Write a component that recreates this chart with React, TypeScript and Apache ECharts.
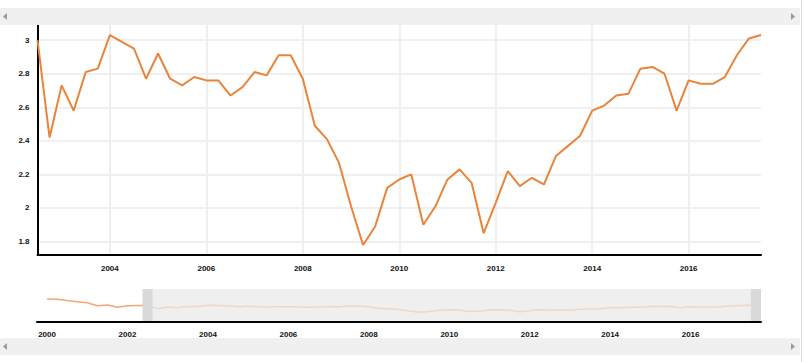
import React, { useEffect, useRef } from "react";
import * as echarts from "echarts";

// Quarterly values, 2000 Q1 .. 2017 Q3
const FIRST_YEAR = 2000;
const values2000Q1to2002Q2 = [4.2, 4.15, 3.9, 3.7, 3.5, 2.95, 3.1, 2.7, 2.95, 3.0];
const values2002Q3to2009Q4 = [
  3.0, 2.42,
  2.73, 2.58, 2.81, 2.83,
  3.03, 2.99, 2.95, 2.77,
  2.92, 2.77, 2.73, 2.78,
  2.76, 2.76, 2.67, 2.72,
  2.81, 2.79, 2.91, 2.91,
  2.77, 2.49, 2.41, 2.27,
  2.01, 1.78, 1.89, 2.12,
];
const values2010Q1to2017Q3 = [
  2.17, 2.2, 1.9, 2.01,
  2.17, 2.23, 2.15, 1.85,
  2.03, 2.22, 2.13, 2.18,
  2.14, 2.31, 2.37, 2.43,
  2.58, 2.61, 2.67, 2.68,
  2.83, 2.84, 2.8, 2.58,
  2.76, 2.74, 2.74, 2.78,
  2.91, 3.01, 3.03,
];
const quarterlyValues = [
  ...values2000Q1to2002Q2,
  ...values2002Q3to2009Q4,
  ...values2010Q1to2017Q3,
];

const viewRange = [2002.5, 2017.5];
const navigatorRange = [1999.75, 2017.75];
const yRange = [1.72, 3.09];
const yTicks = [1.8, 2, 2.2, 2.4, 2.6, 2.8, 3];
const mainXTicks = [2004, 2006, 2008, 2010, 2012, 2014, 2016];
const navXTicks = [2000, 2002, 2004, 2006, 2008, 2010, 2012, 2014, 2016];

const LINE = "#e9843b";
const FONT = {
  fontFamily: "'Liberation Sans', Arial, sans-serif",
  fontSize: 8,
  fontWeight: "bold" as const,
  color: "#111",
};

export default function App() {
  const ref = useRef<HTMLDivElement>(null);
  useEffect(() => {
    if (!ref.current) return;
    const chart = echarts.init(ref.current, undefined, { renderer: "svg" });
    const points = quarterlyValues.map((v, i) => [FIRST_YEAR + i * 0.25, v]);
    const mainPoints = points.filter((p) => p[0] >= viewRange[0] && p[0] <= viewRange[1]);
    const navBefore = points.filter((p) => p[0] <= viewRange[0]);
    const navInside = points.filter((p) => p[0] >= viewRange[0]);

    chart.setOption({
      animation: false,
      grid: [
        { left: 37.5, right: 43, top: 25, bottom: 107 },
        { left: 37, right: 43, top: 289, height: 33 },
      ],
      xAxis: [
        {
          type: "value",
          gridIndex: 0,
          min: viewRange[0],
          max: viewRange[1],
          axisLine: { show: true, onZero: false, lineStyle: { color: "#000", width: 2 } },
          axisTick: { show: false, customValues: mainXTicks },
          axisLabel: { ...FONT, margin: 9, customValues: mainXTicks, formatter: (v: number) => String(v) },
          splitLine: { show: true, lineStyle: { color: "#efefef", width: 2 } },
        },
        {
          type: "value",
          gridIndex: 1,
          min: navigatorRange[0],
          max: navigatorRange[1],
          axisLine: { show: true, onZero: false, lineStyle: { color: "#000", width: 2 } },
          axisTick: { show: false, customValues: navXTicks },
          axisLabel: { ...FONT, margin: 8, customValues: navXTicks, formatter: (v: number) => String(v) },
          splitLine: { show: false },
        },
      ],
      yAxis: [
        {
          type: "value",
          gridIndex: 0,
          min: yRange[0],
          max: yRange[1],
          axisLine: { show: true, onZero: false, lineStyle: { color: "#000", width: 2 } },
          axisTick: { show: false, customValues: yTicks },
          axisLabel: { ...FONT, margin: 8, customValues: yTicks, formatter: (v: number) => String(v) },
          splitLine: { show: true, lineStyle: { color: "#f0f0f0", width: 2 } },
        },
        {
          type: "value",
          gridIndex: 1,
          min: 0,
          max: 6,
          show: false,
          splitLine: { show: false },
        },
      ],
      series: [
        {
          type: "line",
          xAxisIndex: 0,
          yAxisIndex: 0,
          data: mainPoints,
          showSymbol: false,
          lineStyle: { color: LINE, width: 2 },
          z: 3,
        },
        {
          type: "line",
          xAxisIndex: 1,
          yAxisIndex: 1,
          data: navBefore,
          showSymbol: false,
          lineStyle: { color: "rgba(233,132,59,0.7)", width: 1.5 },
          z: 3,
        },
        {
          type: "line",
          xAxisIndex: 1,
          yAxisIndex: 1,
          data: navInside,
          showSymbol: false,
          lineStyle: { color: "rgba(233,132,59,0.22)", width: 1.5 },
          z: 3,
        },
      ],
    });

    const selStart = chart.convertToPixel({ xAxisIndex: 1 }, viewRange[0]) as number;
    const selEnd = chart.convertToPixel({ xAxisIndex: 1 }, viewRange[1]) as number;
    const navRight = chart.convertToPixel({ xAxisIndex: 1 }, navigatorRange[1]) as number;
    const navTop = 289;
    const navH = 33;
    const W = 800;
    const arrow = (x1: number, tipX: number, cy: number) => ({
      type: "polygon",
      shape: { points: [[tipX, cy], [x1, cy - 3.5], [x1, cy + 3.5]] },
      style: { fill: "#9a9a9a" },
      z: 5,
      silent: true,
    });

    chart.setOption({
      graphic: [
        { type: "rect", shape: { x: 0, y: 8, width: W, height: 17 }, style: { fill: "#f0f0f0" }, z: 1, silent: true },
        arrow(7, 3, 16.5),
        arrow(791, 795, 16.5),
        { type: "rect", shape: { x: 0, y: 338, width: W, height: 17 }, style: { fill: "#f0f0f0" }, z: 1, silent: true },
        arrow(7, 3, 346.5),
        arrow(791, 795, 346.5),
        { type: "line", shape: { x1: 801.5, y1: 0, x2: 801.5, y2: 362 }, style: { stroke: "#dcdcdc", lineWidth: 1 }, z: 1, silent: true },
        {
          type: "rect",
          shape: { x: selStart - 5, y: navTop, width: navRight - selStart + 5, height: navH - 1 },
          style: { fill: "#efefef" },
          z: 1,
          silent: true,
        },
        {
          type: "rect",
          shape: { x: selStart - 5, y: navTop, width: 10, height: navH - 1 },
          style: { fill: "#d9d9d9" },
          z: 10,
          silent: true,
        },
        {
          type: "rect",
          shape: { x: selEnd, y: navTop, width: navRight - selEnd, height: navH - 1 },
          style: { fill: "#d9d9d9" },
          z: 10,
          silent: true,
        },
      ],
    });

    return () => chart.dispose();
  }, []);

  return (
    <div
      ref={ref}
      style={{ position: "absolute", left: 0, top: 0, width: 804, height: 362, background: "#fff" }}
    />
  );
}
